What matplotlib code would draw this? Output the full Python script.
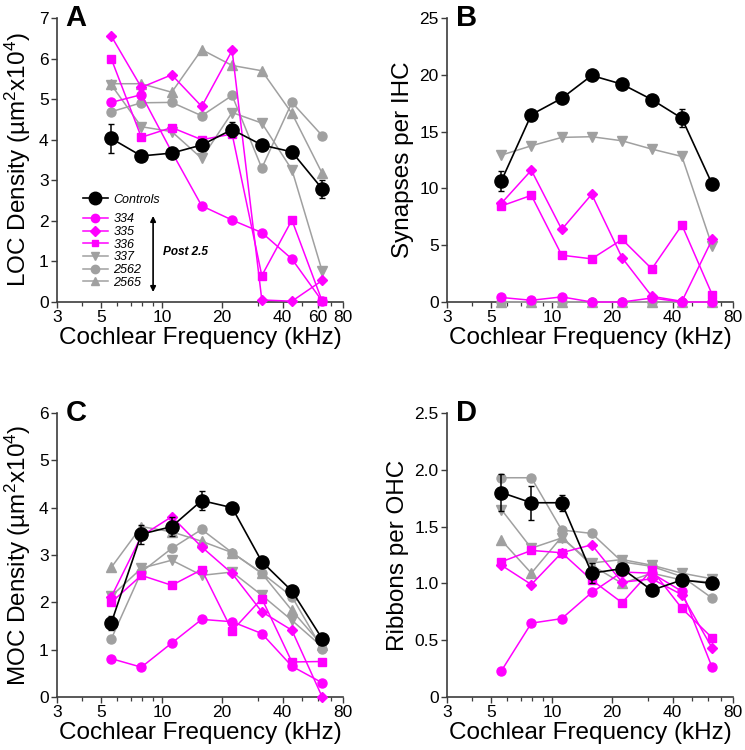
"""
Efferent innervation and synapse counts vs cochlear frequency
Four panels: LOC density, synapses per IHC, MOC density, ribbons per OHC.
"""

import numpy as np
import matplotlib.pyplot as plt
from matplotlib.lines import Line2D
from matplotlib.ticker import FixedLocator, NullFormatter

plt.rcParams["font.family"] = ["Liberation Sans", "DejaVu Sans"]
plt.rcParams["mathtext.fontset"] = "custom"
plt.rcParams["mathtext.rm"] = "Liberation Sans"

# ── Data ──────────────────────────────────────────────────────────────────────
FREQS = [5.6, 7.9, 11.2, 15.8, 22.4, 31.5, 44.5, 63.0]  # kHz
EARS = ["334", "335", "336", "337", "2562", "2565"]

# A: LOC density
loc_ctrl     = [4.03, 3.60, 3.67, 3.87, 4.25, 3.87, 3.70, 2.79]
loc_ctrl_err = [0.35, 0.05, 0.05, 0.12, 0.18, 0.06, 0.14, 0.22]
loc_334  = [4.92, 5.11, 3.70, 2.37, 2.02, 1.71, 1.06, 0.02]
loc_335  = [6.55, 5.29, 5.60, 4.82, 6.20, 0.05, 0.02, 0.53]
loc_336  = [5.99, 4.06, 4.30, 4.00, 4.14, 0.65, 2.02, 0.02]
loc_337  = [5.35, 4.32, 4.20, 3.54, 4.67, 4.41, 3.26, 0.76]
loc_2562 = [4.69, 4.91, 4.92, 4.59, 5.09, 3.30, 4.92, 4.10]
loc_2565 = [5.38, 5.38, 5.17, 6.22, 5.83, 5.70, 4.65, 3.17]

# B: synapses per IHC
syn_ctrl     = [10.66, 16.49, 17.93, 19.94, 19.17, 17.82, 16.17, 10.37]
syn_ctrl_err = [0.90, 0.20, 0.20, 0.20, 0.20, 0.20, 0.80, 0.20]
syn_334  = [0.40, 0.15, 0.45, 0.0, 0.0, 0.35, 0.0, 0.0]
syn_335  = [8.69, 11.60, 6.39, 9.48, 3.89, 0.50, 0.06, 5.51]
syn_336  = [8.45, 9.39, 4.12, 3.80, 5.51, 2.92, 6.77, 0.65]
syn_337  = [12.93, 13.75, 14.49, 14.55, 14.19, 13.46, 12.81, 4.92]
syn_2562 = [0.0, 0.0, 0.0, 0.0, 0.0, 0.0, 0.0, 0.0]
syn_2565 = [0.0, 0.0, 0.0, 0.0, 0.0, 0.0, 0.0, 0.0]

# C: MOC density
moc_ctrl     = [1.57, 3.44, 3.60, 4.15, 4.00, 2.86, 2.24, 1.23]
moc_ctrl_err = [0.15, 0.20, 0.20, 0.20, 0.05, 0.05, 0.05, 0.05]
moc_334  = [0.81, 0.63, 1.14, 1.64, 1.59, 1.34, 0.65, 0.30]
moc_335  = [2.12, 3.40, 3.81, 3.17, 2.61, 1.80, 1.41, 0.0]
moc_336  = [2.00, 2.57, 2.36, 2.69, 1.40, 2.08, 0.74, 0.75]
moc_337  = [2.13, 2.72, 2.89, 2.57, 2.64, 2.15, 1.62, 1.06]
moc_2562 = [1.23, 2.64, 3.14, 3.54, 3.05, 2.62, 2.12, 1.02]
moc_2565 = [2.74, 3.60, 3.49, 3.29, 3.05, 2.61, 1.83, 1.09]

# D: ribbons per OHC
rib_ctrl     = [1.80, 1.71, 1.71, 1.09, 1.13, 0.94, 1.03, 1.00]
rib_ctrl_err = [0.16, 0.15, 0.07, 0.09, 0.04, 0.04, 0.03, 0.02]
rib_334  = [0.23, 0.65, 0.69, 0.92, 1.10, 1.09, 0.93, 0.26]
rib_335  = [1.16, 0.99, 1.27, 1.34, 1.01, 1.04, 0.90, 0.43]
rib_336  = [1.19, 1.29, 1.27, 1.03, 0.83, 1.12, 0.78, 0.52]
rib_337  = [1.65, 1.31, 1.40, 1.18, 1.21, 1.16, 1.09, 1.04]
rib_2562 = [1.93, 1.93, 1.47, 1.44, 1.19, 1.15, 1.06, 0.87]
rib_2565 = [1.38, 1.09, 1.41, 1.16, 1.00, 1.09, 1.03, 1.01]

# ── Styles ────────────────────────────────────────────────────────────────────
MAGENTA = "#ff00ff"
GREY    = "#a0a0a0"
SPINE   = "#3c3c3c"
STYLE = {
    "334":  dict(color=MAGENTA, marker="o", ms=6.5),
    "335":  dict(color=MAGENTA, marker="D", ms=5.5),
    "336":  dict(color=MAGENTA, marker="s", ms=5.5),
    "337":  dict(color=GREY,    marker="v", ms=6.5),
    "2562": dict(color=GREY,    marker="o", ms=6.5),
    "2565": dict(color=GREY,    marker="^", ms=6.5),
}
DRAW_ORDER = ["2565", "2562", "337", "336", "335", "334"]


def draw_panel(ax, ctrl, ctrl_err, series, ymax, yticks, ylabel, letter, xticks):
    for ear in DRAW_ORDER:
        st = STYLE[ear]
        ax.plot(FREQS, series[ear], color=st["color"], marker=st["marker"],
                markersize=st["ms"], linewidth=1.1, clip_on=False, zorder=3)
    ax.errorbar(FREQS, ctrl, yerr=ctrl_err, color="black", marker="o",
                markersize=9.5, linewidth=1.2, elinewidth=1.1, capsize=2,
                clip_on=False, zorder=5)

    ax.set_xscale("log")
    ax.set_xlim(3, 80)
    ax.set_ylim(0, ymax)
    ax.xaxis.set_major_locator(FixedLocator(xticks))
    ax.set_xticklabels([f"{t:g}" for t in xticks])
    minors = [4, 6, 7, 8, 9, 30, 50, 60, 70]
    ax.xaxis.set_minor_locator(FixedLocator([m for m in minors if m not in xticks]))
    ax.xaxis.set_minor_formatter(NullFormatter())
    ax.set_yticks(yticks)

    for side in ("top", "right"):
        ax.spines[side].set_visible(False)
    for side in ("left", "bottom"):
        ax.spines[side].set_color(SPINE)
        ax.spines[side].set_linewidth(1.2)
    ax.tick_params(which="major", direction="out", length=4.5, width=1.0,
                   color=SPINE, labelsize=12.5, pad=1.5)
    ax.tick_params(which="minor", direction="out", length=3, width=0.9, color=SPINE)

    ax.set_xlabel("Cochlear Frequency (kHz)", fontsize=17.5, labelpad=1)
    ax.set_ylabel(ylabel, fontsize=17.5, labelpad=4)
    ax.text(0.03, 1.0, letter, transform=ax.transAxes, fontsize=21,
            fontweight="bold", ha="left", va="center")


fig = plt.figure(figsize=(7.45, 7.5), dpi=100)
W, H = 286 / 745, 284 / 750
ax_a = fig.add_axes([57 / 745, 448 / 750, W, H])
ax_b = fig.add_axes([447 / 745, 448 / 750, W, H])
ax_c = fig.add_axes([57 / 745, 53 / 750, W, H])
ax_d = fig.add_axes([447 / 745, 53 / 750, W, H])

XT = [3, 5, 10, 20, 40, 80]
XT_A = [3, 5, 10, 20, 40, 60, 80]

draw_panel(ax_a, loc_ctrl, loc_ctrl_err,
           dict(zip(EARS, [loc_334, loc_335, loc_336, loc_337, loc_2562, loc_2565])),
           7, range(0, 8), r"LOC Density (µm$\mathregular{^2}$x10$\mathregular{^4}$)", "A", XT_A)
draw_panel(ax_b, syn_ctrl, syn_ctrl_err,
           dict(zip(EARS, [syn_334, syn_335, syn_336, syn_337, syn_2562, syn_2565])),
           25, range(0, 26, 5), "Synapses per IHC", "B", XT)
draw_panel(ax_c, moc_ctrl, moc_ctrl_err,
           dict(zip(EARS, [moc_334, moc_335, moc_336, moc_337, moc_2562, moc_2565])),
           6, range(0, 7), r"MOC Density (µm$\mathregular{^2}$x10$\mathregular{^4}$)", "C", XT)
draw_panel(ax_d, rib_ctrl, rib_ctrl_err,
           dict(zip(EARS, [rib_334, rib_335, rib_336, rib_337, rib_2562, rib_2565])),
           2.5, [0, 0.5, 1.0, 1.5, 2.0, 2.5], "Ribbons per OHC", "D", XT)
ax_d.set_yticklabels(["0", "0.5", "1.0", "1.5", "2.0", "2.5"])

# ── Legend in panel A ─────────────────────────────────────────────────────────
ctrl_handle = Line2D([], [], color="black", marker="o", markersize=9, linewidth=1.2)
leg1 = ax_a.legend([ctrl_handle], ["Controls"], loc="center left",
                   bbox_to_anchor=(0.09, 0.36), frameon=False, borderpad=0,
                   borderaxespad=0, handlelength=2.0, handletextpad=0.45,
                   prop=dict(style="italic", size=9))
ax_a.add_artist(leg1)
ear_handles = [Line2D([], [], color=STYLE[e]["color"], marker=STYLE[e]["marker"],
                      markersize=STYLE[e]["ms"] - 0.5, linewidth=1.1) for e in EARS]
ax_a.legend(ear_handles, EARS, loc="upper left", bbox_to_anchor=(0.09, 0.312),
            frameon=False, borderpad=0, borderaxespad=0, handlelength=2.0,
            handletextpad=0.45, labelspacing=0.05, prop=dict(style="italic", size=9))

ax_a.annotate("", xy=(0.336, 0.035), xytext=(0.336, 0.303), xycoords="axes fraction",
              arrowprops=dict(arrowstyle="<|-|>", color="black", lw=1.2,
                              mutation_scale=8, shrinkA=0, shrinkB=0))
ax_a.text(0.37, 0.176, "Post 2.5", transform=ax_a.transAxes, fontsize=8.5,
          fontweight="bold", style="italic", ha="left", va="center")

fig.savefig("out.png", dpi=100)
